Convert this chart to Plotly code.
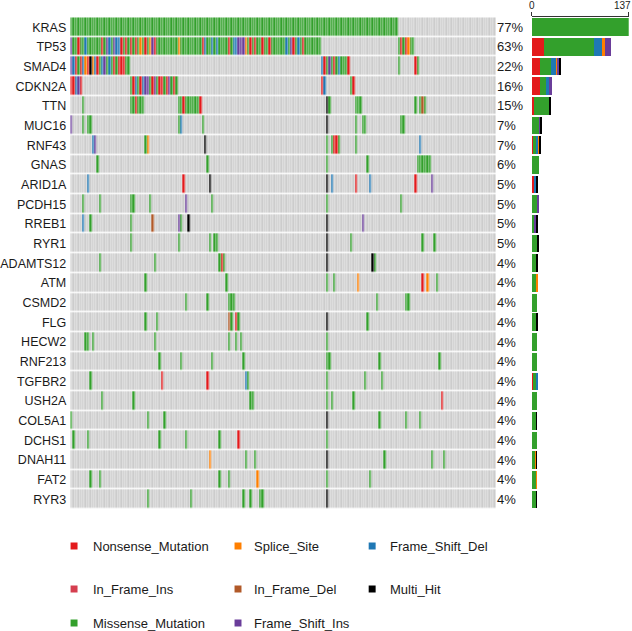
import numpy as np
import plotly.graph_objects as go

W, H = 632, 631
n_samples = 178

genes = ["KRAS", "TP53", "SMAD4", "CDKN2A", "TTN", "MUC16", "RNF43", "GNAS", "ARID1A",
         "PCDH15", "RREB1", "RYR1", "ADAMTS12", "ATM", "CSMD2", "FLG", "HECW2", "RNF213",
         "TGFBR2", "USH2A", "COL5A1", "DCHS1", "DNAH11", "FAT2", "RYR3"]

# sample-column : variant class  (later tokens override earlier ones)
mutations = [
    "0-136:M",
    "0-104:M 137-143:M 0:I 15:I 18:I 34:I 70-72:I 92:I 6:D 16:D 19-20:D 56:D 59:D 61:D 68-69:D 90:D 95:D "
    "29:S 33:S 45:S 73:S 141:S 3:N 13:N 21:N 23:N 25:N 27:N 31:N 35:N 55:N 66:N 75:N 77:N 80:N 83:N 93:N 97:N 138:N 140:N",
    "0:I 1:D 2:N 3:M 4:N 5:D 6:S 7:N 8:X 9:S 10:D 11:N 12:M 13:D 14:I 15:M 16:D 17:M 18:N 19:M 20-22:N 23-24:M "
    "105:D 106:N 107:M 108:I 109:M 110:N 111:M 112:D 113-115:M 116:N 137:M 144:N 145:M",
    "0-1:N 2:D 3:I 4:N 25:M 26:N 27:D 28:M 29:N 30:D 31-32:I 33:M 34:N 35:I 36:M 37-38:N 39:M 40:N 41:I 42:M 43:N 44:M "
    "105:N 106:D 117:M 118:N",
    "5:M 25-30:M 27:N 45-54:M 47:N 54:N 107:X 108:M 119-121:M 144:M 146-148:M 147:F",
    "0:I 5:M 7-8:M 45:M 46:D 55:M 107:X 119:M 122-123:M 138-139:M",
    "9:D 10:I 31:M 32:S 56:X 107:M 109:M 110-111:N 112:M 119:M 146:D",
    "11:M 57:M 107:M 124:M 145-150:M",
    "7:D 47:N 58:X 107:X 109:D 119:N 125:D 144:N 151:I",
    "5:M 12:M 25-26:M 33:M 48:I 59:M 107:M 138:M",
    "5:D 8:M 25:M 34:F 45:I 46:M 49:X 107:X 122:I",
    "25:M 45:M 58:M 60-61:M 107:X 117:M 147:M 152:M",
    "12:M 35:M 62:M 63:N 64:M 107:X 126:X 127:M",
    "31:M 65:M 107:M 110:M 120:S 147:N 149:S 153:M",
    "48:M 57:M 66-68:M 128:M 140-141:M",
    "31:M 36:M 66:F 67:M 69:N 70:M 107:X 124:M",
    "6-7:M 9:M 35:M 66:M 69:M 71:M 107:M",
    "37:M 46:M 59:M 72:M 107-108:M 129:M 154:M",
    "8:M 38:N 57:N 73:D 74:M 107:M 123:M 130:M",
    "13:M 26:M 75-76:M 107:M 109:M 118:M 155:N",
    "0:M 32:M 39:M 107:X 129:M 140:M 146:M",
    "1:M 7:M 37:M 48:M 62:M 70:N 107:M",
    "58:S 73:M 77:M 107:X 131:M 151:M 156:M",
    "8:M 12:M 62:M 66:M 78:S 107:M 125:M",
    "32:M 50:M 72:M 75:M 79-80:M 107:X",
]

class_keys = ["N", "P", "M", "D", "S", "I", "F", "X"]
class_names = ["Nonsense_Mutation", "In_Frame_Ins", "Missense_Mutation", "Frame_Shift_Del",
               "Splice_Site", "Frame_Shift_Ins", "In_Frame_Del", "Multi_Hit"]
class_colors = ["#E31A1C", "#D53E4F", "#33A02C", "#1F78B4",
                "#FF7F00", "#6A3D9A", "#B15928", "#000000"]
bg_color = "#CCCCCC"

# legend layout: (class key, column, row)
legend_items = [("N", 0, 0), ("P", 0, 1), ("M", 0, 2),
                ("S", 1, 0), ("F", 1, 1), ("I", 1, 2),
                ("D", 2, 0), ("X", 2, 1)]

# ---------- build matrix ----------
code_of = {k: i + 1 for i, k in enumerate(class_keys)}
Z = np.zeros((len(genes), n_samples), dtype=int)
for g, spec in enumerate(mutations):
    for tok in spec.split():
        rng, t = tok.split(":")
        if "-" in rng:
            a, b = map(int, rng.split("-"))
        else:
            a = b = int(rng)
        Z[g, a:b + 1] = code_of[t]

counts = {k: (Z == code_of[k]).sum(axis=1) for k in class_keys}
totals = (Z > 0).sum(axis=1)

all_colors = [bg_color] + class_colors
nc = len(all_colors)
colorscale = []
for i, c in enumerate(all_colors):
    colorscale.append([i / nc, c])
    colorscale.append([(i + 1) / nc, c])

def px_x(p):
    return p / W

def px_y(p):
    return 1 - p / H

mat_x = [px_x(66.7), px_x(495.0)]
mat_y = [px_y(509.3), px_y(17.3)]
bar_x = [px_x(531.0), px_x(628.7)]

fig = go.Figure()
fig.add_trace(go.Heatmap(
    z=Z, x=list(range(n_samples)), y=genes,
    colorscale=colorscale, zmin=-0.5, zmax=nc - 0.5,
    showscale=False, xgap=0.5, ygap=1.5, hoverinfo="skip",
    xaxis="x", yaxis="y"))

for k, name, col in zip(class_keys, class_names, class_colors):
    fig.add_trace(go.Bar(
        x=counts[k], y=genes, orientation="h", marker=dict(color=col, line=dict(width=0)),
        name=name, showlegend=False, xaxis="x2", yaxis="y2", hoverinfo="skip"))

ann = []
for g, tot in zip(genes, totals):
    ann.append(dict(x=px_x(494), y=g, xref="paper", yref="y", xanchor="left", yanchor="middle",
                    text=f"{int(round(tot / n_samples * 100))}%", showarrow=False,
                    font=dict(size=13, color="#1a1a1a", family="Liberation Sans, Arial")))

ann.append(dict(x=0, y=px_y(5.5), xref="x2", yref="paper", text="0", showarrow=False,
                xanchor="center", yanchor="middle", font=dict(size=10, color="#222")))
ann.append(dict(x=int(totals.max()), y=px_y(5.5), xref="x2", yref="paper", text=str(int(totals.max())),
                showarrow=False, xanchor="right", xshift=4.5, yanchor="middle",
                font=dict(size=10, color="#222")))

shapes = []
leg_sq_x = [67.0, 232.0, 367.0]
leg_tx_x = [88.0, 250.0, 386.0]
leg_row_y = [546.0, 589.0, 623.0]
sq = 7.0
for k, ci, ri in legend_items:
    idx = class_keys.index(k)
    cy = leg_row_y[ri]
    shapes.append(dict(type="rect", xref="paper", yref="paper",
                       x0=px_x(leg_sq_x[ci]), x1=px_x(leg_sq_x[ci] + sq),
                       y0=px_y(cy + sq / 2), y1=px_y(cy - sq / 2),
                       fillcolor=class_colors[idx], line=dict(width=0)))
    ann.append(dict(x=px_x(leg_tx_x[ci]), y=px_y(cy), xref="paper", yref="paper",
                    xanchor="left", yanchor="middle", text=class_names[idx], showarrow=False,
                    font=dict(size=13, color="#1a1a1a", family="Liberation Sans, Arial")))

fig.update_layout(
    width=W, height=H, margin=dict(l=0, r=0, t=0, b=0),
    paper_bgcolor="white", plot_bgcolor="white",
    barmode="stack", bargap=0.1,
    font=dict(family="Liberation Sans, Arial, sans-serif", color="#1a1a1a"),
    xaxis=dict(domain=mat_x, range=[-0.5, n_samples - 0.5], visible=False, anchor="y"),
    yaxis=dict(domain=mat_y, categoryorder="array", categoryarray=genes, autorange="reversed",
               showgrid=False, zeroline=False, ticks="", tickfont=dict(size=12.5, color="#1a1a1a"),
               ticklabelstandoff=3, anchor="x"),
    xaxis2=dict(domain=bar_x, range=[0, int(totals.max())], side="top", anchor="y2",
                showline=True, linecolor="#333333", linewidth=1, ticks="outside", ticklen=4,
                tickcolor="#333333", tickvals=[0, int(totals.max())], showticklabels=False,
                showgrid=False, zeroline=False),
    yaxis2=dict(domain=mat_y, categoryorder="array", categoryarray=genes, autorange="reversed",
                showticklabels=False, showgrid=False, zeroline=False, ticks="", anchor="x2"),
    annotations=ann, shapes=shapes,
)

fig.write_html("out.html", config={"displayModeBar": False},
               post_script="document.body.style.margin='0';")
